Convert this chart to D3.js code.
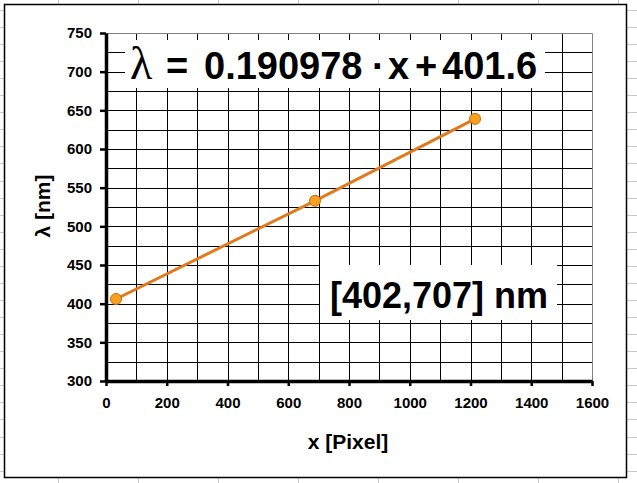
<!DOCTYPE html>
<html>
<head>
<meta charset="utf-8">
<script src="https://cdn.jsdelivr.net/npm/d3@7"></script>
<style>
  html, body { margin: 0; padding: 0; background: #fff; }
  svg { display: block; }
</style>
</head>
<body>
<script>
// ---- data ----
const pixelX = [33, 688, 1215];
const lambdaNm = [406, 533, 639];
const xTickValues = [0, 200, 400, 600, 800, 1000, 1200, 1400, 1600];
const yTickValues = [300, 350, 400, 450, 500, 550, 600, 650, 700, 750];
const xTitle = "x [Pixel]";
const yTitle = "λ [nm]";
const rangeText = "[402,707] nm";

(function () {
const W = 637, H = 483;
const svg = d3.select("body").append("svg").attr("width", W).attr("height", H);

// spreadsheet background grid
const bg = svg.append("g");
d3.range(58, W, 80).forEach(v => bg.append("line").attr("x1", v + .5).attr("x2", v + .5).attr("y1", 0).attr("y2", H).attr("stroke", "#c8c8c8"));
d3.range(9.8, H, 17.07).forEach(v => bg.append("line").attr("x1", 0).attr("x2", W).attr("y1", Math.round(v) + .5).attr("y2", Math.round(v) + .5).attr("stroke", "#c8c8c8"));

// chart area
svg.append("rect").attr("x", 4.5).attr("y", 4.5).attr("width", 622).attr("height", 473)
  .attr("fill", "#fff").attr("stroke", "#000").attr("stroke-width", 1.5);

const pl = 106, pr = 592, pt = 33, pb = 381;
const x = d3.scaleLinear().domain([0, 1600]).range([pl, pr]);
const y = d3.scaleLinear().domain([300, 750]).range([pb, pt]);

// gridlines
const grid = svg.append("g");
d3.range(100, 1600, 100).forEach(v => grid.append("line")
  .attr("x1", Math.round(x(v)) + .5).attr("x2", Math.round(x(v)) + .5)
  .attr("y1", pt).attr("y2", pb).attr("stroke", "#000"));
d3.range(325, 750, 25).forEach(v => grid.append("line")
  .attr("x1", pl).attr("x2", pr)
  .attr("y1", Math.round(y(v)) + .5).attr("y2", Math.round(y(v)) + .5).attr("stroke", "#000"));
// plot area top/right border (grey)
svg.append("path").attr("d", `M${pl},${pt + .5}H${pr + .5}V${pb}`)
  .attr("fill", "none").attr("stroke", "#808080");

const font = "Liberation Sans, Arial, sans-serif";

// equation box
const eq = svg.append("g");
eq.append("rect").attr("x", 125).attr("y", 40).attr("width", 420).attr("height", 48).attr("fill", "#fff");
eq.append("text").attr("x", 130).attr("y", 79).attr("font-family", "Liberation Serif, Times New Roman, serif")
  .attr("font-size", 46).attr("fill", "#000").text("λ");
const eqPieces = [["=", 166], ["0.190978", 204], ["·", 372], ["x", 388], ["+", 415], ["401.6", 442]];
eqPieces.forEach(([t, px]) => eq.append("text").attr("x", px).attr("y", 79)
  .attr("font-family", font).attr("font-weight", "bold")
  .attr("font-size", 38).attr("fill", "#000").text(t));

// range box
svg.append("rect").attr("x", 320).attr("y", 265).attr("width", 237).attr("height", 55).attr("fill", "#fff");
svg.append("text").attr("x", 330).attr("y", 308)
  .attr("font-family", font).attr("font-weight", "bold")
  .attr("font-size", 36).attr("fill", "#000").text(rangeText);

// axes
const xAxis = svg.append("g").attr("transform", `translate(0,${pb})`)
  .call(d3.axisBottom(x).tickValues(xTickValues).tickFormat(d3.format("d"))
    .tickSize(5).tickPadding(11).tickSizeOuter(0));
const yAxis = svg.append("g").attr("transform", `translate(${pl},0)`)
  .call(d3.axisLeft(y).tickValues(yTickValues).tickFormat(d3.format("d"))
    .tickSize(6).tickPadding(8).tickSizeOuter(0));
[xAxis, yAxis].forEach(a => {
  a.select(".domain").attr("stroke", "#000").attr("stroke-width", 3.5);
  a.selectAll(".tick line").attr("stroke", "#000").attr("stroke-width", 2.5);
  a.selectAll(".tick text").attr("font-family", font).attr("font-weight", "bold")
    .attr("font-size", 15).attr("fill", "#000");
});

// line + markers
const pts = pixelX.map((v, i) => [v, lambdaNm[i]]);
svg.append("path").datum(pts)
  .attr("d", d3.line().x(d => x(d[0])).y(d => y(d[1])))
  .attr("fill", "none").attr("stroke", "#E07A1C").attr("stroke-width", 3);
svg.selectAll("circle.pt").data(pts).join("circle").attr("class", "pt")
  .attr("cx", d => x(d[0])).attr("cy", d => y(d[1])).attr("r", 5.5)
  .attr("fill", "#F8A020").attr("stroke", "#C86A10").attr("stroke-width", 1);

// titles
svg.append("text").attr("x", 348).attr("y", 449).attr("text-anchor", "middle")
  .attr("font-family", font).attr("font-weight", "bold").attr("font-size", 21).attr("fill", "#000").text(xTitle);
svg.append("text").attr("transform", "translate(50,206) rotate(-90)").attr("text-anchor", "middle")
  .attr("font-family", font).attr("font-weight", "bold").attr("font-size", 21).attr("fill", "#000").text(yTitle);
})();
</script>
</body>
</html>
